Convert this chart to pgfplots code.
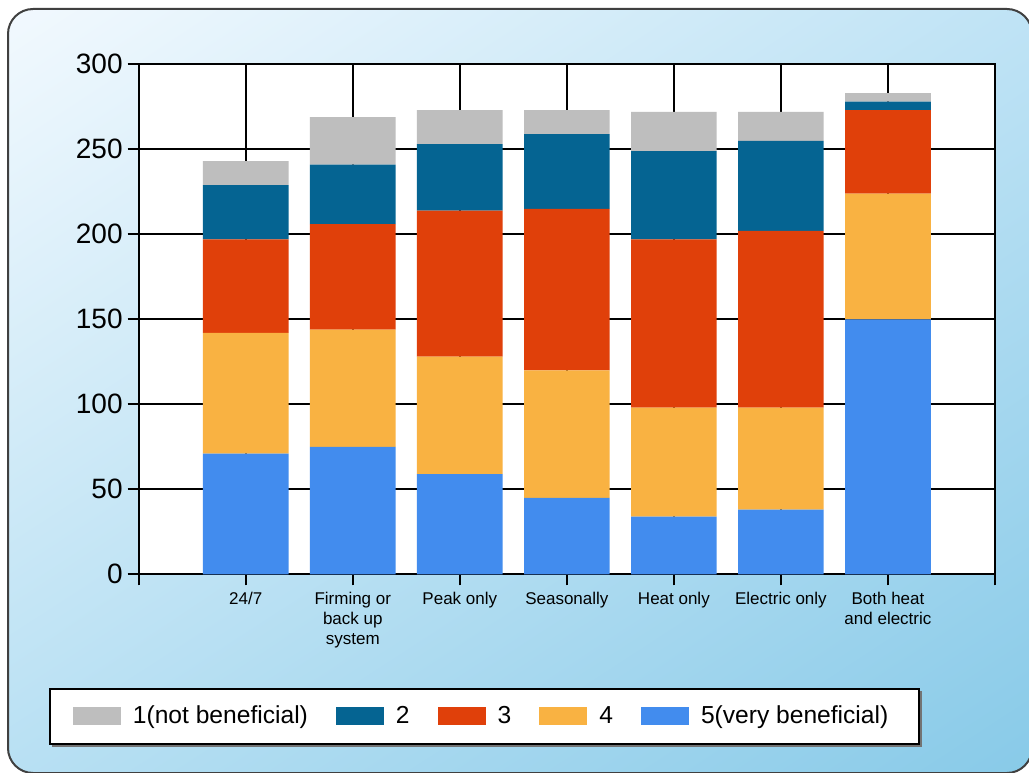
\documentclass[border=0pt]{standalone}
\usepackage{pgfplots}
\pgfplotsset{compat=1.18}
\usepackage{pgfplotstable}
\usepackage{fontspec}
\setmainfont{Liberation Sans}
\usetikzlibrary{shadings}
\definecolor{cA}{HTML}{BEBEBE}
\definecolor{cB}{HTML}{056492}
\definecolor{cC}{HTML}{E0400A}
\definecolor{cD}{HTML}{F9B242}
\definecolor{cE}{HTML}{428CEE}
\definecolor{bgUL}{HTML}{F2F9FE}
\definecolor{bgUR}{HTML}{BFE3F5}
\definecolor{bgLL}{HTML}{B8E0F3}
\definecolor{bgLR}{HTML}{88CAE8}
\pgfplotstableread{
x  v5  v4  v3  v2  v1
1  71  71  55  32  14
2  75  69  62  35  28
3  59  69  86  39  20
4  45  75  95  44  14
5  34  64  99  52  23
6  38  60  104 53  17
7  150 74  49  5   5
}\datatable
\pgfplotsset{legimg/.style={legend image code/.code={\fill[##1] (0pt,-4.5pt) rectangle (24pt,4.5pt);}}}
\begin{document}
\begin{tikzpicture}
\useasboundingbox (0,0) rectangle (514.5pt,386pt);
\shade[rounded corners=12.5pt, upper left=bgUL, upper right=bgUR, lower left=bgLL, lower right=bgLR] (4pt,-0.5pt) rectangle (516pt,381.5pt);
\draw[rounded corners=12.5pt, line width=1pt, black!75] (4pt,-0.5pt) rectangle (516pt,381.5pt);
% legend drop shadow
\fill[black!55] (26pt,12.5pt) rectangle (461pt,40.5pt);
\begin{axis}[
  at={(69.35pt,98.85pt)}, anchor=south west,
  scale only axis, width=428.15pt, height=255pt,
  ybar stacked, bar width=0.8,
  xmin=0, xmax=8, ymin=0, ymax=300,
  xtick={0,1,2,3,4,5,6,7,8},
  xticklabels={,24/7,{Firming or\\back up\\system},Peak only,Seasonally,Heat only,Electric only,{Both heat\\and electric},},
  ytick={0,50,100,150,200,250,300},
  xtick pos=bottom, ytick pos=left,
  grid=major, major grid style={black, line width=0.9pt},
  axis line style={black, line width=1pt},
  tick align=outside, major tick length=5.5pt,
  tick style={black, line width=0.9pt},
  axis background/.style={fill=white},
  /pgf/number format/assume math mode=true,
  yticklabel style={font=\fontsize{14}{16}\selectfont, xshift=1pt},
  xticklabel style={font=\fontsize{8.5}{10}\selectfont, align=center},
  reverse legend,
  legend columns=5,
  legend cell align=left,
  legend style={at={(-0.1047,-0.223)}, anchor=north west, draw=black, line width=0.9pt, fill=white,
    font=\fontsize{12.3}{14}\selectfont, inner xsep=11.5pt, inner ysep=8.5pt,
    nodes={inner sep=0pt},
    /tikz/every odd column/.append style={column sep=6pt},
    /tikz/every even column/.append style={column sep=14pt}},
]
\addplot[fill=cE, draw=none, legimg] table[x=x, y=v5] {\datatable};
\addlegendentry{5(very beneficial)\rule{4pt}{0pt}}
\addplot[fill=cD, draw=none, legimg] table[x=x, y=v4] {\datatable};
\addlegendentry{4}
\addplot[fill=cC, draw=none, legimg] table[x=x, y=v3] {\datatable};
\addlegendentry{3}
\addplot[fill=cB, draw=none, legimg] table[x=x, y=v2] {\datatable};
\addlegendentry{2}
\addplot[fill=cA, draw=none, legimg] table[x=x, y=v1] {\datatable};
\addlegendentry{1(not beneficial)}
\end{axis}
\end{tikzpicture}
\end{document}
